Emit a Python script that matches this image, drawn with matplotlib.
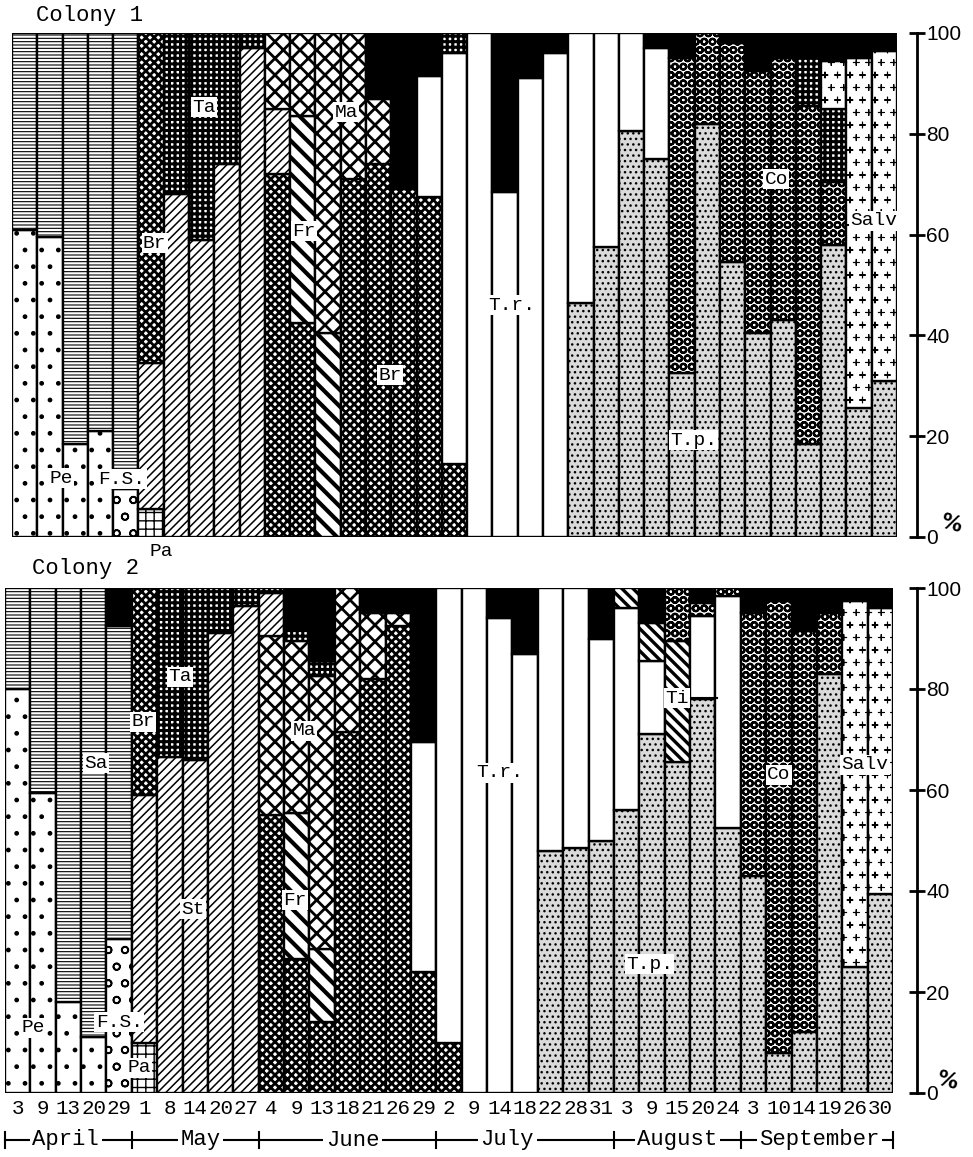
import warnings
import numpy as np
import matplotlib
matplotlib.use('Agg')
import matplotlib.pyplot as plt
import matplotlib.transforms as mtransforms
import matplotlib.hatch as mhatch
from matplotlib.path import Path

warnings.filterwarnings('ignore')

# sampling dates (day of month), April .. September
dates = ['3', '9', '13', '20', '29', '1', '8', '14', '20', '27',
         '4', '9', '13', '18', '21', '26', '29', '2', '9', '14', '18', '22', '28', '31',
         '3', '9', '15', '20', '24', '3', '10', '14', '19', '26', '30']
months = ['April', 'May', 'June', 'July', 'August', 'September']
month_edges = [-0.5, 4.5, 9.5, 16.5, 23.5, 28.5, 34.5]
month_label_x = [1.9, 7.2, 13.2, 19.3, 26.0, 31.6]

# share (%) of each pollen type per sample, listed bottom -> top; 'X' = unnamed (black)
colony1 = [
    [('Pe', 61), ('Sa', 39)],
    [('Pe', 59.5), ('Sa', 40.5)],
    [('Pe', 18.5), ('Sa', 81.5)],
    [('Pe', 21), ('Sa', 79)],
    [('F.S.', 9.5), ('Sa', 90.5)],
    [('Pa', 5.5), ('St', 29), ('Br', 65.5)],
    [('St', 68), ('Ta', 32)],
    [('St', 59), ('Ta', 41)],
    [('St', 74), ('Ta', 26)],
    [('St', 97), ('Ta', 3)],
    [('Br', 72), ('St', 13), ('Ma', 15)],
    [('Br', 42.5), ('Fr', 41), ('Ma', 16.5)],
    [('Fr', 40.5), ('Ma', 59.5)],
    [('Br', 71), ('Ma', 29)],
    [('Br', 74), ('Ma', 13), ('X', 13)],
    [('Br', 69), ('X', 31)],
    [('Br', 67.5), ('T.r.', 24), ('X', 8.5)],
    [('Br', 14.5), ('T.r.', 81.5), ('Ta', 4)],
    [('T.r.', 100)],
    [('T.r.', 68.5), ('X', 31.5)],
    [('T.r.', 91), ('X', 9)],
    [('T.r.', 96), ('X', 4)],
    [('T.p.', 46.5), ('T.r.', 53.5)],
    [('T.p.', 57.5), ('T.r.', 42.5)],
    [('T.p.', 80.5), ('T.r.', 19.5)],
    [('T.p.', 75), ('T.r.', 22), ('X', 3)],
    [('T.p.', 32.5), ('Co', 62.5), ('X', 5)],
    [('T.p.', 82), ('Co', 18)],
    [('T.p.', 54.5), ('Co', 43.5), ('X', 2)],
    [('T.p.', 40.5), ('Co', 52), ('X', 7.5)],
    [('T.p.', 43), ('Co', 52), ('X', 5)],
    [('T.p.', 18.5), ('Co', 67), ('Ta', 10), ('X', 4.5)],
    [('T.p.', 58), ('Co', 12.5), ('Ta', 14.5), ('Salv', 9.5), ('X', 5.5)],
    [('T.p.', 25.5), ('Salv', 69.5), ('X', 5)],
    [('T.p.', 31), ('Salv', 65.5), ('X', 3.5)],
]

colony2 = [
    [('Pe', 80), ('Sa', 20)],
    [('Pe', 59.5), ('Sa', 40.5)],
    [('Pe', 18), ('Sa', 82)],
    [('Pe', 11), ('Sa', 89)],
    [('F.S.', 30.5), ('Sa', 62), ('X', 7.5)],
    [('Pa', 10), ('St', 49), ('Br', 41)],
    [('St', 66.5), ('Ta', 33.5)],
    [('St', 66), ('Ta', 34)],
    [('St', 91), ('Ta', 9)],
    [('St', 96.5), ('Ta', 3.5)],
    [('Br', 55), ('Ma', 35.5), ('St', 8.5), ('Ta', 1)],
    [('Br', 26.5), ('Fr', 29), ('Ma', 34), ('Ta', 2.5), ('X', 8)],
    [('Br', 14), ('Fr', 14.5), ('Ma', 54), ('Ta', 3), ('X', 14.5)],
    [('Br', 71.5), ('Ma', 28.5)],
    [('Br', 82), ('Ma', 13), ('X', 5)],
    [('Br', 92.5), ('Ma', 2.5), ('X', 5)],
    [('Br', 24), ('T.r.', 45.5), ('X', 30.5)],
    [('Br', 10), ('T.r.', 90)],
    [('T.r.', 100)],
    [('T.r.', 94), ('X', 6)],
    [('T.r.', 87), ('X', 13)],
    [('T.p.', 48), ('T.r.', 52)],
    [('T.p.', 48.5), ('T.r.', 51.5)],
    [('T.p.', 50), ('T.r.', 40), ('X', 10)],
    [('T.p.', 56), ('T.r.', 40), ('Ti', 4)],
    [('T.p.', 71), ('T.r.', 14.5), ('Ti', 7.5), ('X', 7)],
    [('T.p.', 65.5), ('Ti', 24), ('Co', 10.5)],
    [('T.p.', 78), ('T.r.', 16.5), ('Co', 2.5), ('X', 3)],
    [('T.p.', 52.5), ('T.r.', 46), ('Co', 1.5)],
    [('T.p.', 43), ('Co', 52), ('X', 5)],
    [('T.p.', 8), ('Co', 89.5), ('X', 2.5)],
    [('T.p.', 12), ('Co', 79.5), ('X', 8.5)],
    [('T.p.', 83), ('Co', 12), ('X', 5)],
    [('T.p.', 25), ('Salv', 72.5), ('X', 2.5)],
    [('T.p.', 39.5), ('Salv', 56.5), ('X', 4)],
]

# in-chart labels: (text, bar position, percent)
labels1 = [('Pe', 1.43, 11.7), ('F.S.', 3.84, 11.5), ('Br', 5.14, 58.3), ('Ta', 7.08, 85.3),
           ('Fr', 11.06, 60.7), ('Ma', 12.72, 84.3), ('Br', 14.46, 32.1), ('T.r.', 19.27, 46),
           ('T.p.', 26.45, 19.2), ('Co', 29.73, 71), ('Salv', 33.6, 62.7)]
labels2 = [('Pe', 0.6, 12.9), ('F.S.', 4.0, 14), ('Pa', 4.79, 5), ('Sa', 3.09, 65.3),
           ('Br', 4.95, 73.5), ('Ta', 6.4, 82.4), ('St', 6.92, 36.4), ('Ma', 11.3, 71.7),
           ('Fr', 10.94, 38.2), ('T.r.', 19.0, 63.4), ('Ti', 26.0, 78.2), ('Co', 30.0, 63),
           ('Salv', 33.4, 65), ('T.p.', 24.9, 25.5)]


# small scattered crosses for the Salv texture ('c' in a hatch string)
class SmallCrosses(mhatch.Shapes):
    filled = False
    size = 0.45

    def __init__(self, hatch, density):
        # keep the row count even, the staggered grid needs it
        self.num_rows = 2 * int(hatch.count('c') * density * 0.35)
        self.shape_vertices = np.array([[-0.5, 0], [0.5, 0], [0, -0.5], [0, 0.5]])
        self.shape_codes = np.array([Path.MOVETO, Path.LINETO, Path.MOVETO, Path.LINETO],
                                    dtype=Path.code_type)
        super().__init__(hatch, density)


mhatch._hatch_types.append(SmallCrosses)

# face colour, hatch colour, hatch, hatch linewidth
styles = {
    'Pe':   ('white', 'black', '.', 1.0),
    'Sa':   ('white', 'black', '-----', 0.8),
    'F.S.': ('white', 'black', 'o', 1.2),
    'Pa':   ('white', 'black', '++', 1.0),
    'Br':   ('white', 'black', 'xxxx', 2.0),
    'St':   ('white', 'black', '////', 1.1),
    'Ta':   ('white', 'black', '+++', 2.2),
    'Ma':   ('white', 'black', 'xx', 2.0),
    'Fr':   ('white', 'black', '\\\\', 3.0),
    'T.r.': ('white', 'black', '', 1.0),
    'T.p.': ('#dadada', 'black', '...', 1.0),
    'Co':   ('white', 'black', 'OO', 1.6),
    'Ti':   ('white', 'black', '\\\\\\', 2.4),
    'Salv': ('white', 'black', 'cc', 0.8),
    'X':    ('black', 'black', '', 1.0),
}

mono = 'Liberation Mono'
W, H = 973, 1157
fig = plt.figure(figsize=(W / 100, H / 100), dpi=100)
ax1 = fig.add_axes([12 / W, (H - 537) / H, 885 / W, 504 / H])
ax2 = fig.add_axes([5 / W, (H - 1093) / H, 888 / W, 505 / H])


def draw_colony(ax, bars):
    for i, bar in enumerate(bars):
        bottom = 0
        for sp, share in bar:
            face, hcol, hatch, hlw = styles[sp]
            with plt.rc_context({'hatch.linewidth': hlw}):
                p = ax.bar(i, share, bottom=bottom, width=1.0, color=face,
                           hatch=hatch, edgecolor=hcol, linewidth=0)
            for r in p:
                if hasattr(r, 'set_hatch_linewidth'):
                    r.set_hatch_linewidth(hlw)
            ax.bar(i, share, bottom=bottom, width=1.0, fill=False,
                   edgecolor='black', linewidth=1.7)
            bottom += share


def style_axis(ax, gap_px):
    ax.set_xlim(-0.5, 34.5)
    ax.set_ylim(0, 100)
    for s in ['top', 'left', 'bottom']:
        ax.spines[s].set_visible(False)
    ax.spines['right'].set_position(('outward', gap_px * 0.72))
    ax.spines['right'].set_linewidth(2)
    ax.yaxis.tick_right()
    ax.set_yticks([0, 20, 40, 60, 80, 100])
    ax.tick_params(axis='y', direction='inout', length=11, width=2, labelsize=15, pad=1)
    for t in ax.get_yticklabels():
        t.set_family('Liberation Sans')
    ax.tick_params(axis='x', length=0)


draw_colony(ax1, colony1)
draw_colony(ax2, colony2)
style_axis(ax1, 20)
style_axis(ax2, 24)

ax1.set_xticks([])
ax2.set_xticks(range(len(dates)))
ax2.set_xticklabels(dates, family=mono, fontsize=15)
ax2.tick_params(axis='x', pad=4)

box = dict(facecolor='white', edgecolor='none', pad=1.0)
for ax, labels in [(ax1, labels1), (ax2, labels2)]:
    for s, x, y in labels:
        ax.text(x, y, s, ha='center', va='center', family=mono, fontsize=14,
                bbox=box, zorder=5)
ax1.text(5.42, -2.8, 'Pa', ha='center', va='center', family=mono, fontsize=14,
         clip_on=False)
ax2.plot([26.55, 27.55], [78.2, 78.2], color='black', lw=1.5, zorder=6)

for ax, x, y in [(ax1, 1.061, 0.026), (ax2, 1.061, 0.024)]:
    ax.text(x, y, '%', transform=ax.transAxes, ha='center', va='center',
            fontsize=15, fontweight='bold', rotation=-15)

fig.text(90 / W, 1 - 16 / H, 'Colony 1', ha='center', va='center', family=mono, fontsize=16)
fig.text(85 / W, 1 - 568 / H, 'Colony 2', ha='center', va='center', family=mono, fontsize=16)

# month bar under the dates
trans = mtransforms.blended_transform_factory(ax2.transData, ax2.transAxes)
yl = (1093 - 1140) / 505
ax2.plot([month_edges[0], month_edges[-1]], [yl, yl], transform=trans,
         color='black', lw=1.5, clip_on=False)
for e in month_edges:
    ax2.plot([e, e], [yl - 0.016, yl + 0.016], transform=trans,
             color='black', lw=1.5, clip_on=False)
for m, x in zip(months, month_label_x):
    ax2.text(x, yl, m, transform=trans, ha='center', va='center', family=mono,
             fontsize=16, bbox=dict(facecolor='white', edgecolor='none', pad=2),
             clip_on=False, zorder=5)

fig.savefig('out.png', dpi=100)
